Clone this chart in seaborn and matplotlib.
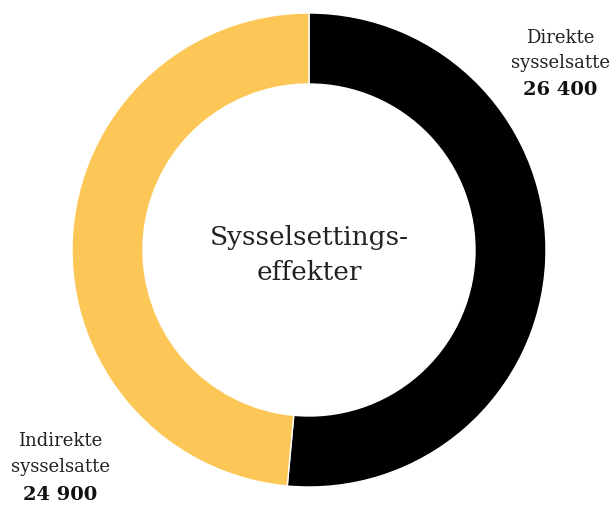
import matplotlib
matplotlib.use("Agg")
import matplotlib.pyplot as plt
import seaborn as sns

sns.set_style("white")
plt.rcParams['font.family'] = ['DejaVu Serif']

# Data
categories = ["Direkte\nsysselsatte", "Indirekte\nsysselsatte"]
values = [26400, 24900]
value_labels = ["26 400", "24 900"]
colors = ["#000000", "#FCC757"]
center_title = "Sysselsettings-\neffekter"

fig = plt.figure(figsize=(6.12, 5.09), dpi=100)
ax = fig.add_axes([0, 0, 1, 1])

# donut in pixel-like coordinates
ax.pie(values, colors=colors, startangle=90, counterclock=False,
       center=(309, 259), radius=237,
       wedgeprops=dict(width=237 - 166, edgecolor="white", linewidth=1))
ax.set_xlim(0, 612)
ax.set_ylim(0, 509)
ax.set_aspect("equal")
ax.axis("off")

ax.text(309, 254, center_title, ha="center", va="center",
        fontsize=19, color="#222222", linespacing=1.45)

# Direkte label (top right)
ax.text(560, 459, categories[0], ha="center", va="center",
        fontsize=13, color="#222222", linespacing=1.5)
ax.text(560, 419, value_labels[0], ha="center", va="center",
        fontsize=14, fontweight="bold", color="#111111")

# Indirekte label (bottom left)
ax.text(60, 55, categories[1], ha="center", va="center",
        fontsize=13, color="#222222", linespacing=1.5)
ax.text(60, 14, value_labels[1], ha="center", va="center",
        fontsize=14, fontweight="bold", color="#111111")

fig.savefig("out.png", dpi=100)
plt.close(fig)
